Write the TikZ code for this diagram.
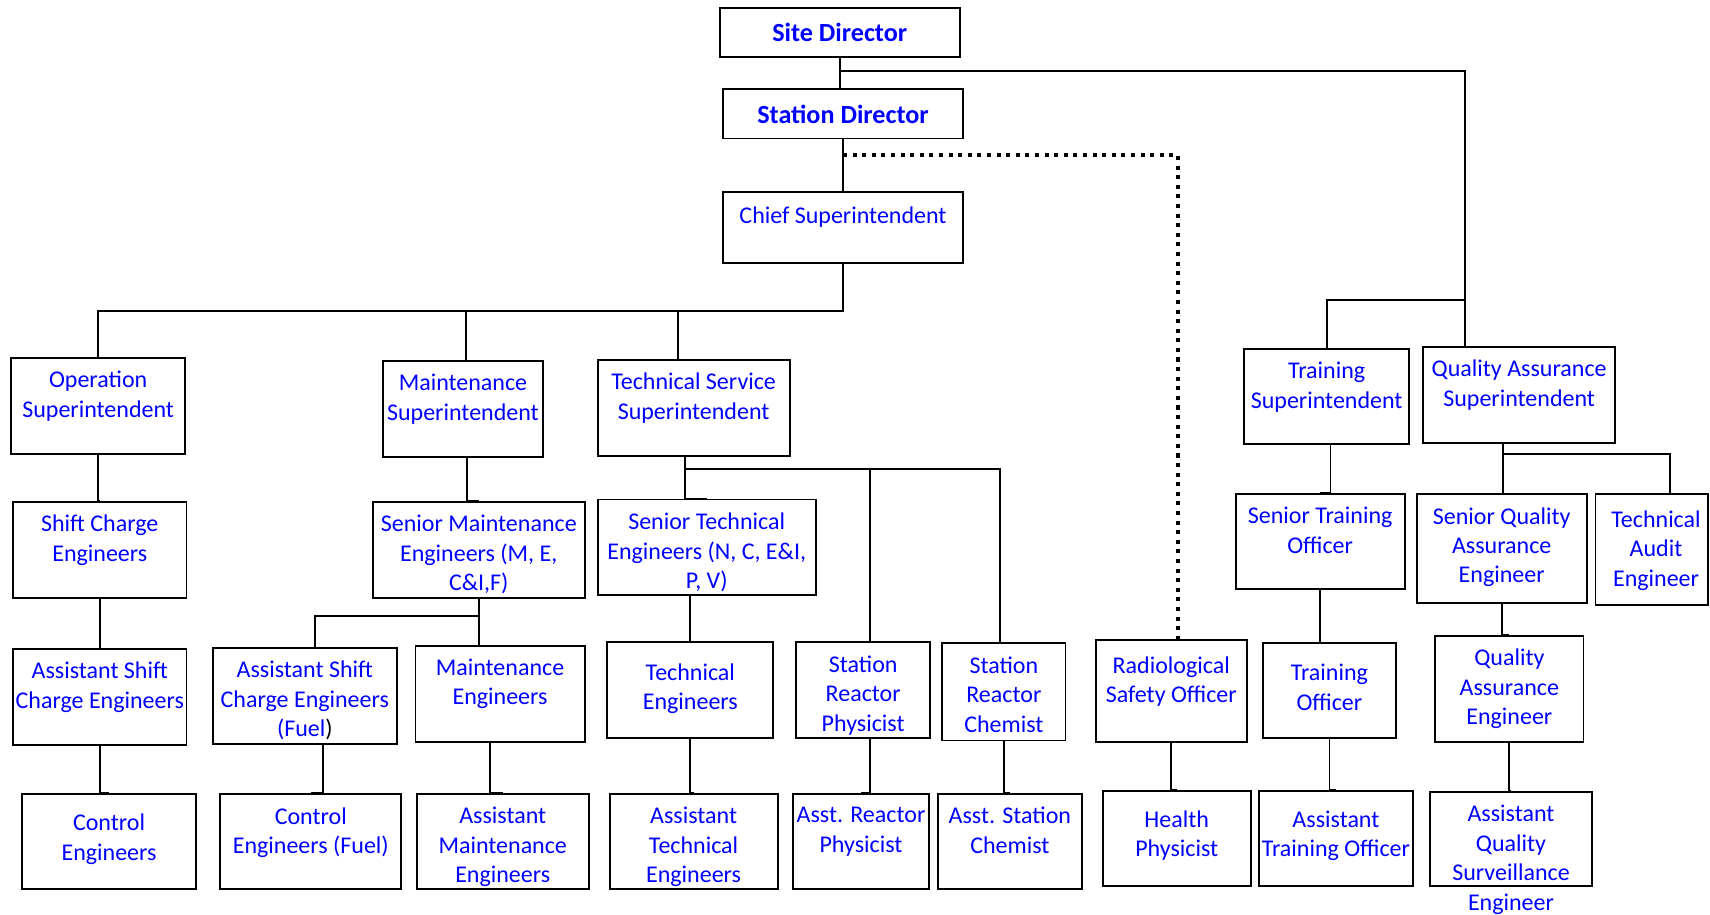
\documentclass[tikz,border=0pt]{standalone}
\usepackage{fontspec}
\setmainfont{Carlito}
\usepackage{tikz}
\usetikzlibrary{positioning}
\definecolor{orgblue}{RGB}{0,0,255}

\begin{document}
\begin{tikzpicture}[x=1pt,y=-1pt,
  post/.style 2 args={draw, line width=1.8pt, inner sep=0pt,
    minimum width=#1pt, minimum height=#2pt},
  dirpost/.style 2 args={post={#1}{#2}, text=orgblue,
    font=\fontsize{24}{29}\selectfont\bfseries},
  title/.style={text=orgblue, font=\fontsize{22}{27}\selectfont,
    align=center, inner sep=0pt},
  link/.style={line width=1.6pt},
  dotlink/.style={line width=3.7pt, dash pattern=on 3.7pt off 5.1pt}]
  \useasboundingbox (0,0) rectangle (1568,839);

  % directors
  \node[dirpost={220}{45}] (sited) at (770,29.5) {Site Director};
  \node[dirpost={220}{45}] (stad) at (773,104.5) {Station Director};
  \node[post={220}{65}] (chief) at (773,208.5) {};
  \node[title, below=14pt of chief.north] (chiefT) {Chief Superintendent};

  % superintendents
  \node[post={160}{88}] (opsup) at (90,372) {};
  \node[title, below=13pt of opsup.north] (opsupT) {Operation\\Superintendent};
  \node[post={147}{88}] (maintsup) at (424.5,375) {};
  \node[title, below=13pt of maintsup.north] (maintsupT) {Maintenance\\Superintendent};
  \node[post={176}{88}] (techsup) at (636,374) {};
  \node[title, below=13pt of techsup.north] (techsupT) {Technical Service\\Superintendent};
  \node[post={151}{87}] (trainsup) at (1216.5,363.5) {};
  \node[title, below=13pt of trainsup.north] (trainsupT) {Training\\Superintendent};
  \node[post={176}{88}] (qasup) at (1393,362) {};
  \node[title, below=13pt of qasup.north] (qasupT) {Quality Assurance\\Superintendent};

  % senior level
  \node[post={159}{88}] (shift) at (91.5,504) {};
  \node[title, below=13pt of shift.north] (shiftT) {Shift Charge\\Engineers};
  \node[post={194}{88}] (smaint) at (439,504) {};
  \node[title, below=13pt of smaint.north] (smaintT) {Senior Maintenance\\Engineers (M, E,\\C\&I,F)};
  \node[post={200}{88}] (stech) at (648,502) {};
  \node[title, below=13pt of stech.north] (stechT) {Senior Technical\\Engineers (N, C, E\&I,\\P, V)};
  \node[post={155}{87}] (strain) at (1210.5,496.5) {};
  \node[title, below=13pt of strain.north] (strainT) {Senior Training\\Officer};
  \node[post={156}{100}] (sqa) at (1377,503) {};
  \node[title, below=13pt of sqa.north] (sqaT) {Senior Quality\\Assurance\\Engineer};
  \node[post={103}{102}] (audit) at (1514.5,504) {};
  \node[title, below=16pt of audit.north, xshift=4pt] (auditT) {Technical\\Audit\\Engineer};

  % engineers and officers
  \node[post={159}{88}] (asce) at (91.5,639) {};
  \node[title, below=13pt of asce.north] (asceT) {Assistant Shift\\Charge Engineers};
  \node[post={169}{88}] (ascef) at (279.5,638) {};
  \node[title, below=13pt of ascef.north] (ascefT) {Assistant Shift\\Charge Engineers\\(Fuel\textcolor{black}{)}};
  \node[post={155}{88}] (meng) at (458.5,636) {};
  \node[title, below=13pt of meng.north] (mengT) {Maintenance\\Engineers};
  \node[post={152}{88}] (teng) at (633,633) {};
  \node[title, below=20pt of teng.north] (tengT) {Technical\\Engineers};
  \node[post={123}{88}] (srp) at (791.5,633) {};
  \node[title, below=13pt of srp.north] (srpT) {Station\\Reactor\\Physicist};
  \node[post={113}{89}] (src) at (920.5,634.5) {};
  \node[title, below=13pt of src.north] (srcT) {Station\\Reactor\\Chemist};
  \node[post={138}{93}] (rso) at (1074,633.5) {};
  \node[title, below=16pt of rso.north] (rsoT) {Radiological\\Safety Officer};
  \node[post={122}{87}] (to) at (1219,633.5) {};
  \node[title, below=20pt of to.north] (toT) {Training\\Officer};
  \node[post={136}{97}] (qae) at (1384,631.5) {};
  \node[title, below=13pt of qae.north] (qaeT) {Quality\\Assurance\\Engineer};

  % assistants
  \node[post={160}{87}] (ce) at (100,771.5) {};
  \node[title, below=19pt of ce.north] (ceT) {Control\\Engineers};
  \node[post={166}{87}] (cef) at (285,771.5) {};
  \node[title, below=13pt of cef.north] (cefT) {Control\\Engineers (Fuel)};
  \node[post={158}{87}] (ame) at (461,771.5) {};
  \node[title, below=13pt of ame.north] (ameT) {Assistant\\Maintenance\\Engineers};
  \node[post={154}{87}] (ate) at (636,771.5) {};
  \node[title, below=13pt of ate.north] (ateT) {Assistant\\Technical\\Engineers};
  \node[post={125}{87}] (arp) at (789.5,771.5) {};
  \node[title, below=13pt of arp.north] (arpT) {Asst. Reactor\\Physicist};
  \node[post={132}{87}] (asc) at (926,771.5) {};
  \node[title, below=13pt of asc.north] (ascT) {Asst. Station\\Chemist};
  \node[post={136}{87}] (hp) at (1079,768.5) {};
  \node[title, below=19pt of hp.north] (hpT) {Health\\Physicist};
  \node[post={142}{87}] (ato) at (1225,768.5) {};
  \node[title, below=19pt of ato.north] (atoT) {Assistant\\Training Officer};
  \node[post={149}{86}] (aqse) at (1385.5,769) {};
  \node[title, below=13pt of aqse.north] (aqseT) {Assistant\\Quality\\Surveillance\\Engineer};

  % junctions
  \coordinate (j1) at (770,65);
  \coordinate (j2) at (1343,275);
  \coordinate (j3) at (773,285);
  \coordinate (j4) at (628,430);
  \coordinate (j5) at (439,565);
  \coordinate (j6) at (1378,416);
  \coordinate (dj) at (773,142);

  % top links
  \draw[link] (sited.south) |- (stad.north);
  \draw[link] (j1) -| ([xshift=-50pt]qasup.north);
  \draw[link] (j2) -| (trainsup.north);
  \draw[link] (stad.south) -- (chief.north);
  \draw[dotlink] (dj) -| ([xshift=6pt]rso.north);
  \draw[link] (chief.south) -- (j3) -| (opsup.north);
  \draw[link] ([xshift=2.5pt]maintsup.north) |- (j3);
  \draw[link] ([xshift=-14pt]techsup.north) |- (j3);

  % operation
  \draw[link] (opsup.south) |- (shift.north);
  \draw[link] (shift.south) -- (asce.north);
  \draw[link] (asce.south) |- (ce.north);

  % maintenance
  \draw[link] ([xshift=3.5pt]maintsup.south) |- (smaint.north);
  \draw[link] (smaint.south) -- ([xshift=-19.5pt]meng.north);
  \draw[link] ([xshift=9.5pt]ascef.north) |- (j5);
  \draw[link] ([xshift=16.5pt]ascef.south) |- (cef.north);
  \draw[link] ([xshift=-9.5pt]meng.south) |- (ame.north);

  % technical service
  \draw[link] ([xshift=-8pt]techsup.south) |- (stech.north);
  \draw[link] ([xshift=6.5pt]srp.north) |- (j4);
  \draw[link] ([xshift=-3.5pt]src.north) |- (j4);
  \draw[link] ([xshift=-15pt]stech.south) |- (teng.north);
  \draw[link] (teng.south) |- (ate.north);
  \draw[link] ([xshift=6.5pt]srp.south) |- (arp.north);
  \draw[link] (src.south) |- (asc.north);

  % radiological safety
  \draw[link] (rso.south) |- (hp.north);

  % training
  \draw[link] ([xshift=3.5pt]trainsup.south) |- (strain.north);
  \draw[link] (strain.south) |- (to.north);
  \draw[link] (to.south) |- (ato.north);

  % quality assurance
  \draw[link] ([xshift=-15pt]qasup.south) |- (sqa.north);
  \draw[link] ([xshift=16.5pt]audit.north) |- (j6);
  \draw[link] (sqa.south) |- (qae.north);
  \draw[link] (qae.south) |- (aqse.north);
\end{tikzpicture}
\end{document}
